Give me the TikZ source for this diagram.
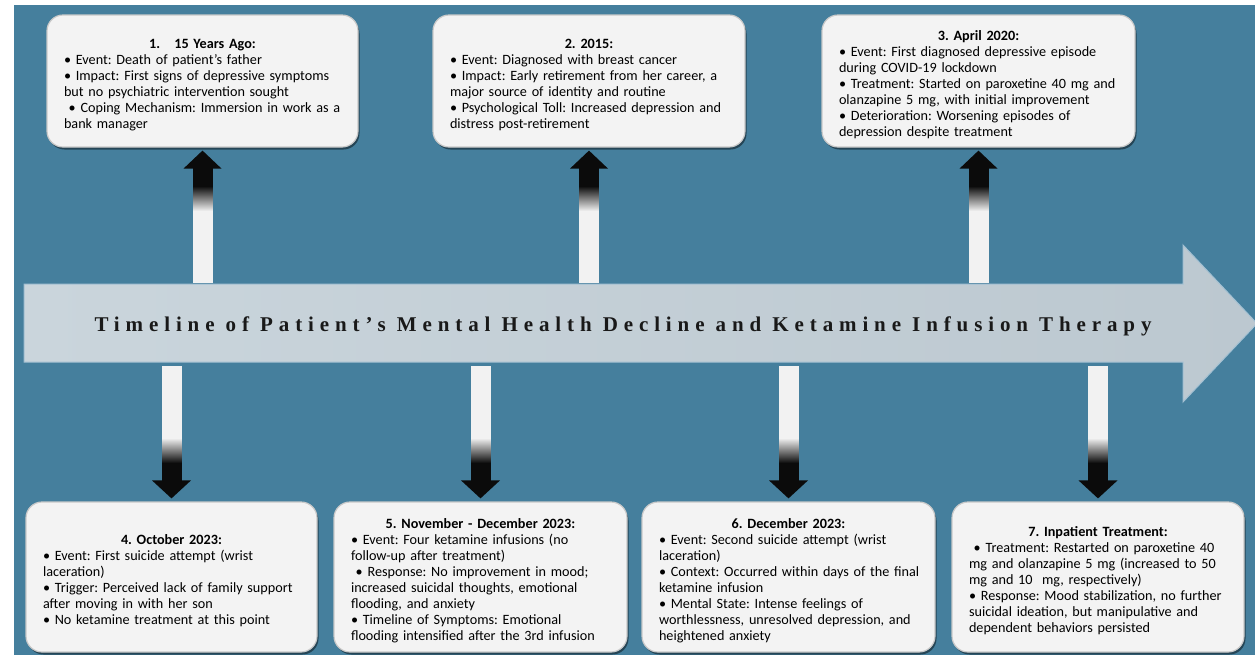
\documentclass[tikz,border=0pt]{standalone}
\usepackage{fontspec}
\setmainfont{Carlito}
\newfontfamily\ttlfont[LetterSpace=28]{Liberation Serif}
\usetikzlibrary{shadows}
\definecolor{bgblue}{HTML}{457F9D}
\definecolor{boxfill}{HTML}{F3F3F3}
\definecolor{boxedge}{HTML}{C9C9C9}
\definecolor{arrfillL}{HTML}{CAD5DC}
\definecolor{arrfillR}{HTML}{BCC8D0}
\definecolor{arredge}{HTML}{A3C0D2}
\definecolor{arrwhite}{HTML}{F2F2F2}
\definecolor{arrblack}{HTML}{0B0B0B}
\setlength\parindent{0pt}
\frenchspacing
\newcommand\btitle[1]{{\centering\bfseries\rule{0pt}{18pt}#1\par}}
\newcommand\bline[1]{\mbox{#1}\par}
% gradient drawn as thin strips (the y axis of the picture is flipped)
\newcommand\uparr[1]{%
  \begin{scope}[shift={(#1.south)}]
    \fill[arrwhite] (-10,62) rectangle (10,135);
    \foreach \i in {0,...,24}{%
      \pgfmathtruncatemacro\p{\i*4}%
      \fill[arrwhite!\p!arrblack] (-10,38+\i) rectangle (10,39.6+\i);}
    \fill[arrblack] (-10,20.5) rectangle (10,38.5);
    \fill[arrblack] (-19,21) -- (0,3) -- (19,21) -- cycle;
  \end{scope}}
\newcommand\downarr[1]{%
  \begin{scope}[shift={(#1.north)}]
    \fill[arrwhite] (-10,-135) rectangle (10,-62);
    \foreach \i in {0,...,24}{%
      \pgfmathtruncatemacro\p{\i*4}%
      \fill[arrblack!\p!arrwhite] (-10,-63+\i) rectangle (10,-61.4+\i);}
    \fill[arrblack] (-10,-38.5) rectangle (10,-20.5);
    \fill[arrblack] (-19.5,-21) -- (0,-3) -- (19.5,-21) -- cycle;
  \end{scope}}
\begin{document}
\begin{tikzpicture}[x=1pt,y=-1pt,
  box/.style={rounded corners=16pt, fill=boxfill, draw=boxedge, line width=1.2pt,
    drop shadow={shadow xshift=1.5pt, shadow yshift=-2.5pt, opacity=0.45, fill=black},
    inner xsep=17pt, inner ysep=0pt, font=\fontsize{14.2}{16}\selectfont, text=black},
  topbox/.style={box, minimum height=132pt},
  botbox/.style={box, minimum height=150pt}]
\useasboundingbox (0,0) rectangle (1255,654);
\clip (0,0) rectangle (1255,654);
\fill[white] (0,0) rectangle (1255,654);
\fill[bgblue] (14,5) rectangle (1260,660);

% main timeline arrow
\shade[left color=arrfillL, right color=arrfillR, draw=arredge, line width=1pt]
  (24,284) -- (1183,284) -- (1183,245) -- (1257,323.5) -- (1183,402) -- (1183,362) -- (24,362) -- cycle;
\node[anchor=base, inner sep=0pt, text=black!90, font=\ttlfont\bfseries\fontsize{21}{25}\selectfont] (title) at (623,331.5)
  {Timeline of Patient’s Mental Health Decline and Ketamine Infusion Therapy};

% top boxes
\node[topbox, text width=277pt] (b1) at (202.5,81) {%
  \btitle{1.\ \ \ 15 Years Ago:}
  \bline{• Event: Death of patient’s father}
  \bline{• Impact: First signs of depressive symptoms}
  \bline{but no psychiatric intervention sought}
  \bline{\ • Coping Mechanism: Immersion in work as a}
  \bline{bank manager}};
\node[topbox, text width=278pt] (b2) at (589,81) {%
  \btitle{2. 2015:}
  \bline{• Event: Diagnosed with breast cancer}
  \bline{• Impact: Early retirement from her career, a}
  \bline{major source of identity and routine}
  \bline{• Psychological Toll: Increased depression and}
  \bline{distress post-retirement}};
\node[topbox, text width=279pt] (b3) at (978.5,81) {%
  \btitle{3. April 2020:}
  \bline{• Event: First diagnosed depressive episode}
  \bline{during COVID-19 lockdown}
  \bline{• Treatment: Started on paroxetine 40 mg and}
  \bline{olanzapine 5 mg, with initial improvement}
  \bline{• Deterioration: Worsening episodes of}
  \bline{depression despite treatment}};

% bottom boxes
\node[botbox, text width=257pt] (b4) at (171.5,577) {%
  \btitle{4. October 2023:}
  \bline{• Event: First suicide attempt (wrist}
  \bline{laceration)}
  \bline{• Trigger: Perceived lack of family support}
  \bline{after moving in with her son}
  \bline{• No ketamine treatment at this point}};
\node[botbox, text width=259pt] (b5) at (480.5,577) {%
  \btitle{5. November - December 2023:}
  \bline{• Event: Four ketamine infusions (no}
  \bline{follow-up after treatment)}
  \bline{\ • Response: No improvement in mood;}
  \bline{increased suicidal thoughts, emotional}
  \bline{flooding, and anxiety}
  \bline{• Timeline of Symptoms: Emotional}
  \bline{flooding intensified after the 3rd infusion}};
\node[botbox, text width=259pt] (b6) at (788.5,577) {%
  \btitle{6. December 2023:}
  \bline{• Event: Second suicide attempt (wrist}
  \bline{laceration)}
  \bline{• Context: Occurred within days of the final}
  \bline{ketamine infusion}
  \bline{• Mental State: Intense feelings of}
  \bline{worthlessness, unresolved depression, and}
  \bline{heightened anxiety}};
\node[botbox, text width=258pt] (b7) at (1098,577) {%
  \btitle{7. Inpatient Treatment:}
  \bline{\ • Treatment: Restarted on paroxetine 40}
  \bline{mg and olanzapine 5 mg (increased to 50}
  \bline{mg and 10\ \ mg, respectively)}
  \bline{• Response: Mood stabilization, no further}
  \bline{suicidal ideation, but manipulative and}
  \bline{dependent behaviors persisted}};

% block arrows between timeline and boxes
\uparr{b1}
\uparr{b2}
\uparr{b3}
\downarr{b4}
\downarr{b5}
\downarr{b6}
\downarr{b7}
\end{tikzpicture}
\end{document}
